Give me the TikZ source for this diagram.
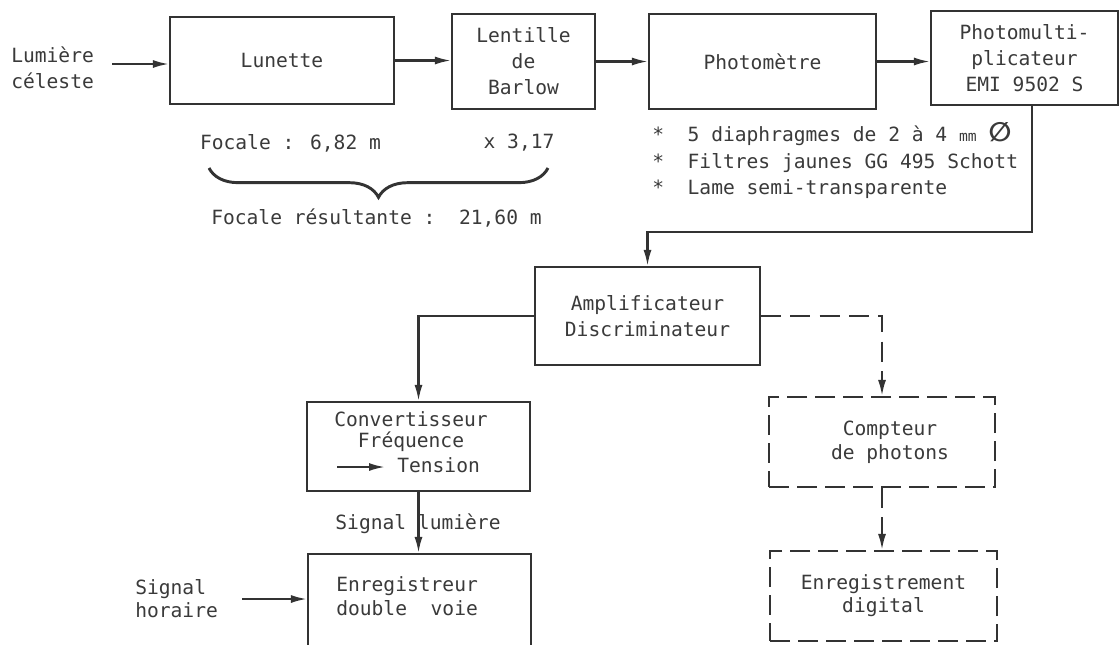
\documentclass[tikz,border=0pt]{standalone}
\usepackage{fontspec}
\setmainfont{DejaVu Sans Mono}
\newfontfamily\symfnt{DejaVu Sans}
\usetikzlibrary{arrows.meta,decorations.pathreplacing}
\definecolor{ink}{HTML}{333333}
\definecolor{txt}{HTML}{3A3A3A}
\begin{document}
\begin{tikzpicture}[x=0.75pt,y=-0.75pt,
  every node/.style={font=\fontsize{14.7}{19.5}\selectfont, text=txt},
  box/.style={draw=ink, line width=1.6pt, inner sep=0pt, align=center},
  dbox/.style={box, dash pattern=on 15pt off 6pt},
  arr/.style={draw=ink, line width=1.6pt, -{Latex[length=12pt,width=6pt]}},
  darr/.style={arr, dash pattern=on 15pt off 7pt},
  lbl/.style={align=left, anchor=west, inner sep=0pt},
  tlbl/.style={align=center, inner sep=0pt}
]
\clip (0,0) rectangle (1120,644);
\fill[white] (0,0) rectangle (1120,644);

% top row
\node[box, minimum width=168pt, minimum height=65.25pt] (lun) at (282,60.5) {Lunette};
\node[box, minimum width=107.25pt, minimum height=71.25pt] (bar) at (523.5,61.5) {Lentille\\de\\Barlow};
\node[box, minimum width=170.25pt, minimum height=71.25pt] (pho) at (762.5,61.5) {Photomètre};
\node[box, minimum width=140.25pt, minimum height=70.5pt] (pmt) at (1024.5,58) {Photomulti-\\plicateur\\EMI 9502 S};

\node[lbl] (lum) at (11,67.5) {Lumière\\céleste};
\coordinate (ls) at (112,64);
\draw[arr] (ls) -- (ls -| lun.west);
\draw[arr] (lun.east) -- (lun.east -| bar.west);
\draw[arr] (bar.east) -- (bar.east -| pho.west);
\draw[arr] (pho.east) -- (pho.east -| pmt.west);

% focal labels and brace
\node[tlbl] (f1) at (290.5,143) {Focale : 6,82 m};
\node[tlbl] (f2) at (519,143) {x 3,17};
\draw[ink, line width=2.2pt, decorate, decoration={brace, mirror, amplitude=22pt}]
  (209,168) coordinate (bl) -- (548,168) coordinate (br);
\node[tlbl] (f3) at (376.5,218) {Focale résultante :~~21,60 m};

% photometre notes
\node[lbl, font=\fontsize{14.7}{19.9}\selectfont] (notes) at (652,160.5)
  {*~~5 diaphragmes de 2 à 4 {\fontsize{11}{11}\selectfont mm} {\symfnt\fontsize{20}{20}\selectfont\bfseries ∅}\\{*}~~Filtres jaunes GG 495 Schott\\{*}~~Lame semi-transparente};

% amplifier
\node[box, minimum width=168.75pt, minimum height=73.5pt] (amp) at (647.5,316) {Amplificateur\\Discriminateur};
\draw[arr] ([xshift=5.6pt]pmt.south) -- ++(0,126) -| (amp.north);

% converter
\node[box, minimum width=167.25pt, minimum height=66.75pt] (cvt) at (418.5,446.5) {};
\node[tlbl, font=\fontsize{14.7}{15.75}\selectfont] (cvtt) at (411,432) {Convertisseur\\Fréquence};
\node[lbl] (tens) at (397,465) {Tension};
\coordinate (ta) at (337,467);
\coordinate (tb) at (385,467);
\draw[arr] (ta) -- (tb);
\draw[arr] (amp.west) -| (cvt.north);

% recorder
\node[box, minimum width=167.25pt, minimum height=109.5pt] (enr) at (419.5,627) {};
\node[lbl, font=\fontsize{14.7}{18}\selectfont] (enrt) at (336,596) {Enregistreur\\double~~voie};
\draw[arr] (cvt.south) -- (cvt.south |- enr.north);
\node[tlbl] (sl) at (418,524) {Signal lumière};

\node[lbl, font=\fontsize{14.7}{17.25}\selectfont] (hor) at (135,598.5) {Signal\\horaire};
\coordinate (hs) at (242,599);
\draw[arr] (hs) -- (hs -| enr.west);

% dashed branch
\node[dbox, minimum width=169.5pt, minimum height=67.5pt, font=\fontsize{14.7}{18}\selectfont] (cpt) at (882,442) {\hspace*{12pt}Compteur\\\hspace*{12pt}de photons};
\node[dbox, minimum width=170.25pt, minimum height=67.5pt, font=\fontsize{14.7}{17.25}\selectfont] (eng) at (883.5,596) {Enregistrement\\digital};
\draw[darr] (amp.east) -| (cpt.north);
\draw[darr] (cpt.south) -- (cpt.south |- eng.north);
\end{tikzpicture}
\end{document}
